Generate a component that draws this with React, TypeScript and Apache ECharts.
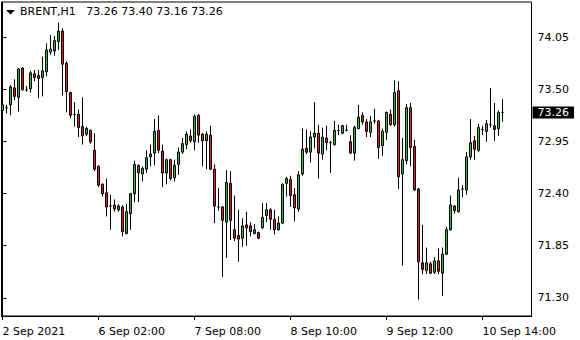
import React, { useEffect, useRef } from "react";
import * as echarts from "echarts";

const symbolName = "BRENT,H1";
const xTickLabels = ["2 Sep 2021", "6 Sep 02:00", "7 Sep 08:00", "8 Sep 10:00", "9 Sep 12:00", "10 Sep 14:00"];
const barsPerLabel = 24;
const xMin = -0.25;
const xMax = 132.25;
const yTickValues = [71.3, 71.85, 72.4, 72.95, 73.5, 74.05];
const yMin = 71.107;
const yMax = 74.428;

const opens = [
  73.28, 73.31, 73.34, 73.52, 73.42, 73.73, 73.50, 73.51, 73.67, 73.65,
  73.63, 73.69, 73.90, 73.91, 74.01, 74.12, 73.78, 73.47, 73.24, 73.24,
  73.11, 73.03, 73.07, 72.86, 72.69, 72.50, 72.41, 72.27, 72.28, 72.23,
  72.26, 71.98, 72.19, 72.40, 72.70, 72.61, 72.66, 72.79, 72.83, 73.07,
  72.85, 72.62, 72.76, 72.57, 72.71, 72.84, 72.92, 73.01, 72.95, 73.23,
  73.03, 72.96, 73.02, 72.66, 72.26, 72.26, 72.10, 72.51, 72.02, 71.96,
  71.93, 72.07, 72.06, 71.98, 71.99, 72.04, 72.17, 72.23, 72.13, 72.02,
  72.09, 72.51, 72.55, 72.39, 72.24, 72.61, 72.88, 72.84, 73.00, 73.04,
  72.82, 72.99, 72.94, 72.92, 73.07, 73.04, 73.07, 72.95, 72.83, 73.09,
  73.23, 73.16, 73.05, 73.17, 73.17, 72.91, 73.05, 73.24, 73.13, 73.49,
  72.61, 72.75, 73.31, 72.90, 72.45, 71.67, 71.59, 71.66, 71.57, 71.69,
  71.56, 71.76, 72.02, 72.27, 72.21, 72.45, 72.44, 72.79, 72.96, 72.86,
  73.08, 73.06, 73.13, 73.12, 73.09, 73.26,
];
const closes = [
  73.34, 73.31, 73.53, 73.43, 73.72, 73.50, 73.50, 73.68, 73.63, 73.62,
  73.70, 73.92, 73.93, 74.02, 74.12, 73.77, 73.48, 73.23, 73.24, 73.10,
  73.01, 73.09, 72.95, 72.66, 72.49, 72.40, 72.26, 72.27, 72.24, 72.27,
  72.00, 72.21, 72.40, 72.71, 72.62, 72.67, 72.78, 72.82, 73.06, 72.86,
  72.62, 72.76, 72.56, 72.70, 72.84, 72.93, 73.03, 72.96, 73.22, 73.02,
  72.96, 73.03, 72.66, 72.27, 72.26, 72.12, 72.52, 72.12, 71.93, 71.92,
  72.06, 72.04, 72.00, 72.02, 71.93, 72.15, 72.23, 72.13, 72.02, 72.09,
  72.50, 72.56, 72.38, 72.25, 72.60, 72.87, 72.84, 73.00, 73.04, 72.83,
  73.00, 72.94, 72.94, 73.07, 73.07, 73.12, 73.07, 72.83, 73.10, 73.21,
  73.16, 73.06, 73.16, 73.17, 72.89, 73.06, 73.26, 73.13, 73.47, 72.58,
  72.76, 73.31, 72.89, 72.44, 71.68, 71.60, 71.67, 71.56, 71.69, 71.58,
  71.76, 72.02, 72.28, 72.22, 72.44, 72.45, 72.79, 72.94, 72.87, 73.10,
  73.08, 73.14, 73.13, 73.08, 73.26, 73.26,
];
const lows = [
  73.24, 73.25, 73.23, 73.39, 73.27, 73.49, 73.48, 73.47, 73.59, 73.41,
  73.43, 73.64, 73.87, 73.86, 73.92, 73.44, 73.26, 73.20, 73.11, 73.00,
  72.92, 73.01, 72.93, 72.64, 72.47, 72.37, 72.16, 72.02, 72.21, 72.21,
  71.95, 71.97, 72.02, 72.31, 72.31, 72.53, 72.62, 72.69, 72.70, 72.83,
  72.47, 72.50, 72.54, 72.53, 72.60, 72.82, 72.87, 72.94, 72.86, 72.94,
  72.69, 72.66, 72.65, 72.09, 72.22, 71.52, 71.72, 71.91, 71.90, 71.68,
  71.84, 71.85, 71.95, 71.97, 71.92, 72.03, 72.10, 72.02, 71.97, 72.01,
  72.08, 72.37, 72.26, 72.11, 72.21, 72.59, 72.82, 72.73, 72.88, 72.56,
  72.76, 72.86, 72.62, 72.91, 73.02, 73.03, 73.06, 72.82, 72.75, 73.08,
  73.13, 73.00, 73.00, 73.14, 72.77, 72.80, 72.97, 73.12, 73.11, 72.45,
  71.64, 72.71, 72.69, 72.43, 71.28, 71.55, 71.55, 71.55, 71.55, 71.55,
  71.32, 71.75, 72.01, 72.19, 72.20, 72.36, 72.39, 72.76, 72.76, 72.84,
  73.02, 72.95, 73.10, 72.96, 73.01, 73.16,
];
const highs = [
  73.39, 73.34, 73.55, 73.61, 73.73, 73.74, 73.54, 73.70, 73.71, 73.71,
  73.85, 73.99, 74.08, 74.07, 74.21, 74.15, 73.80, 73.48, 73.37, 73.29,
  73.42, 73.11, 73.08, 73.04, 72.70, 72.51, 72.56, 72.39, 72.34, 72.29,
  72.28, 72.29, 72.41, 72.75, 72.71, 72.69, 72.86, 72.92, 73.19, 73.23,
  72.92, 72.77, 72.77, 72.76, 72.89, 72.99, 73.06, 73.08, 73.24, 73.24,
  73.04, 73.06, 73.12, 72.71, 72.46, 72.27, 72.65, 72.64, 72.38, 72.23,
  72.14, 72.21, 72.10, 72.08, 72.00, 72.30, 72.30, 72.25, 72.23, 72.16,
  72.51, 72.58, 72.59, 72.46, 72.64, 73.09, 73.08, 73.06, 73.37, 73.13,
  73.10, 73.12, 72.96, 73.17, 73.13, 73.13, 73.13, 73.02, 73.12, 73.34,
  73.26, 73.19, 73.22, 73.30, 73.18, 73.09, 73.27, 73.29, 73.60, 73.59,
  72.99, 73.35, 73.36, 72.97, 72.46, 72.07, 71.83, 71.68, 71.73, 71.82,
  71.83, 72.05, 72.38, 72.28, 72.57, 72.49, 72.84, 73.19, 73.01, 73.14,
  73.12, 73.18, 73.52, 73.36, 73.28, 73.40,
];

const FONT = "DejaVu Sans";

export default function App() {
  const ref = useRef<HTMLDivElement>(null);
  useEffect(() => {
    document.body.style.margin = "0";
    const chart = echarts.init(ref.current!, null, { renderer: "svg" });
    const n = opens.length;
    const last = n - 1;
    const xTickValues = xTickLabels.map((_, k) => k * barsPerLabel);
    const data = opens.map((o, i) => [i, o, closes[i], lows[i], highs[i]]);
    const header = `${symbolName}   ${opens[last].toFixed(2)} ${highs[last].toFixed(2)} ${lows[last].toFixed(2)} ${closes[last].toFixed(2)}`;

    chart.setOption({
      animation: false,
      backgroundColor: "#ffffff",
      grid: {
        left: 1.5,
        right: 48.5,
        top: 2,
        bottom: 24,
        show: true,
        borderColor: "#000",
        borderWidth: 1,
        containLabel: false,
        outerBoundsMode: "none",
      },
      xAxis: {
        type: "value",
        min: xMin,
        max: xMax,
        axisLine: { show: true, onZero: false, lineStyle: { color: "#000", width: 1 } },
        axisTick: {
          show: true,
          customValues: xTickValues,
          length: 4,
          lineStyle: { color: "#000" },
        },
        axisLabel: {
          customValues: xTickValues,
          align: "left",
          margin: 10,
          color: "#000",
          fontFamily: FONT,
          fontSize: 11,
          formatter: (v: number) => xTickLabels[Math.round(v / barsPerLabel)] ?? "",
        },
        splitLine: { show: false },
      },
      yAxis: {
        type: "value",
        position: "right",
        min: yMin,
        max: yMax,
        axisLine: { show: true, lineStyle: { color: "#000" } },
        axisTick: { show: true, length: 4, customValues: yTickValues, lineStyle: { color: "#000" } },
        axisLabel: {
          customValues: yTickValues,
          margin: 6,
          color: "#000",
          fontFamily: FONT,
          fontSize: 11,
          formatter: (v: number) => v.toFixed(2),
        },
        splitLine: { show: false },
      },
      graphic: [
        {
          type: "polygon",
          shape: { points: [[6, 10], [15, 10], [10.5, 14.5]] },
          style: { fill: "#000" },
        },
        {
          type: "text",
          left: 20,
          top: 6,
          style: { text: header, font: `11px "${FONT}"`, fill: "#000" },
        },
      ],
      series: [
        {
          type: "candlestick",
          data,
          encode: { x: 0, y: [1, 2, 3, 4] },
          barWidth: 2,
          itemStyle: {
            color: "#2FB82F",
            color0: "#E01B1B",
            borderColor: "#000",
            borderColor0: "#000",
            borderColorDoji: "#000",
            borderWidth: 1,
          },
          markLine: {
            silent: true,
            symbol: ["none", "none"],
            data: [{ yAxis: closes[last] }],
            lineStyle: { color: "rgba(0,0,0,0)", width: 0 },
            label: {
              show: true,
              position: "end",
              distance: 1,
              formatter: closes[last].toFixed(2),
              backgroundColor: "#000",
              color: "#fff",
              padding: [1, 5, 1, 5],
              fontFamily: FONT,
              fontSize: 11,
              lineHeight: 10,
            },
          },
        },
      ],
    });
    return () => chart.dispose();
  }, []);
  return (
    <div
      ref={ref}
      style={{ position: "fixed", left: 0, top: 0, width: 580, height: 340, background: "#fff" }}
    />
  );
}
